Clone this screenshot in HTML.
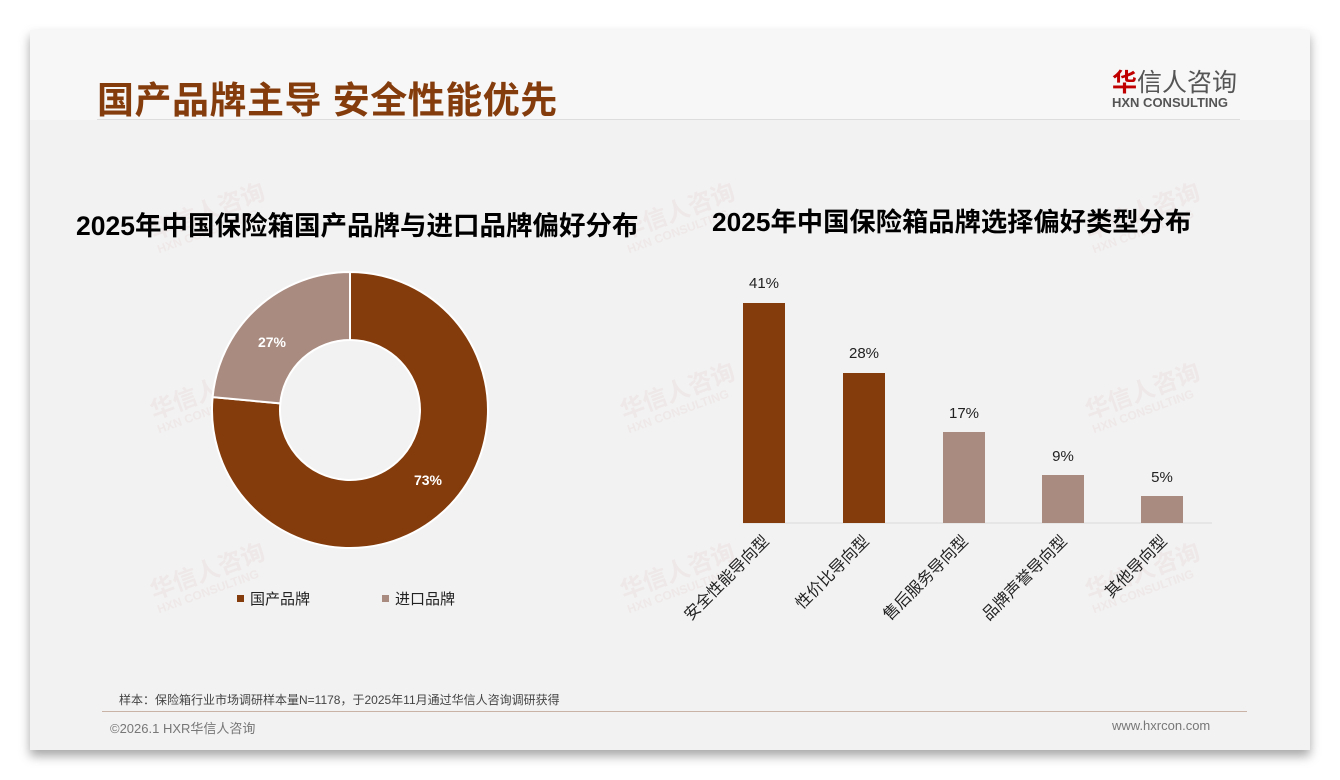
<!DOCTYPE html>
<html><head><meta charset="utf-8"><style>
body{margin:0;width:1340px;height:780px;background:#fff;position:relative;overflow:hidden;font-family:"Liberation Sans","Noto Sans CJK SC",sans-serif}
.slide{position:absolute;left:30px;top:30px;width:1280px;height:720px;background:#f2f2f2;box-shadow:0 6px 10px rgba(0,0,0,.35)}
.hdr{position:absolute;left:0;top:0;width:1280px;height:90px;background:#f7f7f7}
.t{position:absolute;white-space:nowrap}
.wm{position:absolute;color:rgba(200,120,120,.08);font-size:24px;font-weight:bold;transform:rotate(-20deg);white-space:nowrap;line-height:1}
.wm small{display:block;font-size:12px}
</style></head><body>
<div class="slide"><div class="hdr"></div></div>
<div class="t" style="left:97px;top:70px;font-size:37px;font-weight:bold;color:#843c0c;letter-spacing:0.5px">国产品牌主导 安全性能优先</div>
<div class="t" style="left:1112px;top:63px;font-size:25px;color:#555"><span style="color:#c00000;font-weight:bold">华</span>信人咨询</div>
<div class="t" style="left:1112px;top:95px;font-size:13px;color:#555;font-weight:bold">HXN CONSULTING</div>
<div style="position:absolute;left:97px;top:119px;width:1143px;height:1px;background:#ddd"></div>

<div class="wm" style="left:150px;top:200px">华信人咨询<small>HXN CONSULTING</small></div>
<div class="wm" style="left:620px;top:200px">华信人咨询<small>HXN CONSULTING</small></div>
<div class="wm" style="left:1085px;top:200px">华信人咨询<small>HXN CONSULTING</small></div>
<div class="wm" style="left:150px;top:380px">华信人咨询<small>HXN CONSULTING</small></div>
<div class="wm" style="left:620px;top:380px">华信人咨询<small>HXN CONSULTING</small></div>
<div class="wm" style="left:1085px;top:380px">华信人咨询<small>HXN CONSULTING</small></div>
<div class="wm" style="left:150px;top:560px">华信人咨询<small>HXN CONSULTING</small></div>
<div class="wm" style="left:620px;top:560px">华信人咨询<small>HXN CONSULTING</small></div>
<div class="wm" style="left:1085px;top:560px">华信人咨询<small>HXN CONSULTING</small></div>

<div class="t" style="left:76px;top:204px;font-size:26.5px;font-weight:bold;color:#000">2025年中国保险箱国产品牌与进口品牌偏好分布</div>
<div class="t" style="left:712px;top:200px;font-size:26.3px;font-weight:bold;color:#000">2025年中国保险箱品牌选择偏好类型分布</div>

<svg style="position:absolute;left:0;top:0" width="1340" height="780">
<g transform="translate(350,410)">
<path d="M0,-138 A138,138 0 1 1 -137.4,-12.9 L-69.7,-6.6 A70,70 0 1 0 0,-70 Z" fill="#843c0c" stroke="#fff" stroke-width="2"/>
<path d="M-137.4,-12.9 A138,138 0 0 1 0,-138 L0,-70 A70,70 0 0 0 -69.7,-6.6 Z" fill="#a98b80" stroke="#fff" stroke-width="2"/>
</g>
<text x="272" y="347" fill="#fff" font-size="14" font-weight="bold" text-anchor="middle">27%</text>
<text x="428" y="485" fill="#fff" font-size="14" font-weight="bold" text-anchor="middle">73%</text>
<rect x="237" y="595" width="7" height="7" fill="#843c0c"/>
<text x="250" y="604" font-size="15" fill="#222">国产品牌</text>
<rect x="382" y="595" width="7" height="7" fill="#a98b80"/>
<text x="395" y="604" font-size="15" fill="#222">进口品牌</text>

<line x1="743" y1="523" x2="1212" y2="523" stroke="#d9d9d9"/>
<rect x="743" y="303" width="42" height="220" fill="#843c0c"/>
<rect x="843" y="373" width="42" height="150" fill="#843c0c"/>
<rect x="943" y="432" width="42" height="91" fill="#a98b80"/>
<rect x="1042" y="475" width="42" height="48" fill="#a98b80"/>
<rect x="1141" y="496" width="42" height="27" fill="#a98b80"/>
<g font-size="15" fill="#222" text-anchor="middle">
<text x="764" y="288">41%</text><text x="864" y="358">28%</text><text x="964" y="418">17%</text><text x="1063" y="461">9%</text><text x="1162" y="482">5%</text>
</g>
<g font-size="16" fill="#222" text-anchor="end">
<text transform="translate(770,542) rotate(-45)">安全性能导向型</text>
<text transform="translate(870,542) rotate(-45)">性价比导向型</text>
<text transform="translate(969,542) rotate(-45)">售后服务导向型</text>
<text transform="translate(1068,542) rotate(-45)">品牌声誉导向型</text>
<text transform="translate(1168,542) rotate(-45)">其他导向型</text>
</g>
</svg>

<div class="t" style="left:119px;top:691px;font-size:12px;color:#444">样本：保险箱行业市场调研样本量N=1178，于2025年11月通过华信人咨询调研获得</div>
<div style="position:absolute;left:102px;top:711px;width:1145px;height:1px;background:#c9b2a6"></div>
<div class="t" style="left:110px;top:718px;font-size:13px;color:#777">©2026.1 HXR华信人咨询</div>
<div class="t" style="left:1112px;top:718px;font-size:13px;color:#777">www.hxrcon.com</div>
</body></html>
